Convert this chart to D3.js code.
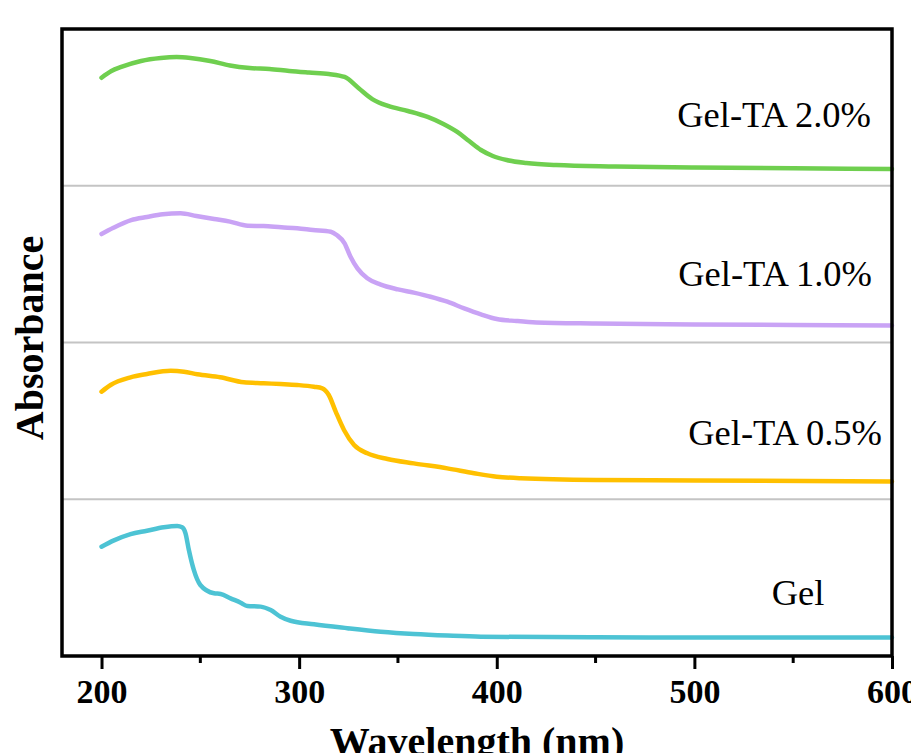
<!DOCTYPE html>
<html>
<head>
<meta charset="utf-8">
<script src="https://cdn.jsdelivr.net/npm/d3@7"></script>
<style>
  body { margin: 0; background: #fff; }
  svg { display: block; }
</style>
</head>
<body>
<div id="chart"></div>
<script>
// series names, bottom panel first
const seriesNames = ["Gel", "Gel-TA 0.5%", "Gel-TA 1.0%", "Gel-TA 2.0%"];
const seriesColors = ["#4dc3d4", "#ffc000", "#c9a3f5", "#6fcf4f"];

// normalized absorbance
const gelNm = [200, 206, 214.7, 223, 231.5, 238.3, 240.8, 242.5, 244.2, 246.7, 250, 256.9, 260.3, 265.3, 270.4, 273.8, 280.5, 285.6, 290.6, 295.7, 307.5, 324.4, 341.3, 358.1, 375, 392, 450, 500, 600];
const gelAbs = [0.697, 0.736, 0.778, 0.799, 0.821, 0.829, 0.821, 0.783, 0.676, 0.549, 0.453, 0.400, 0.396, 0.368, 0.340, 0.319, 0.315, 0.293, 0.251, 0.225, 0.202, 0.177, 0.155, 0.140, 0.130, 0.123, 0.119, 0.118, 0.118];

const ta05Nm = [200, 204.6, 214.7, 223, 235, 241.7, 248.5, 260, 272, 282, 290.6, 299, 307.5, 311.7, 315, 318.5, 322.7, 327.8, 334.5, 344.7, 358, 375, 388.5, 400, 412, 450, 500, 600];
const ta05Abs = [0.686, 0.729, 0.778, 0.799, 0.820, 0.814, 0.797, 0.778, 0.746, 0.740, 0.735, 0.729, 0.718, 0.708, 0.665, 0.559, 0.442, 0.346, 0.293, 0.257, 0.229, 0.197, 0.166, 0.144, 0.134, 0.123, 0.120, 0.113];

const ta10Nm = [200, 206, 215, 223, 231, 240, 248, 257, 265, 274, 282, 291, 299, 307, 316, 319, 323, 326, 329.5, 334.5, 341, 350, 358, 366.5, 375, 383.5, 392, 400, 410, 420, 450, 500, 550, 600];
const ta10Abs = [0.692, 0.732, 0.781, 0.801, 0.818, 0.824, 0.807, 0.788, 0.771, 0.745, 0.743, 0.735, 0.729, 0.718, 0.707, 0.686, 0.633, 0.547, 0.473, 0.410, 0.371, 0.339, 0.318, 0.292, 0.260, 0.218, 0.180, 0.150, 0.137, 0.128, 0.121, 0.115, 0.112, 0.108];

const ta20Nm = [200, 205, 210, 220, 230, 238, 245, 255, 265, 275, 285, 295, 305, 315, 323, 330, 337, 345, 355, 365, 373, 380, 386, 392, 398, 405, 415, 430, 460, 500, 550, 600];
const ta20Abs = [0.689, 0.732, 0.758, 0.796, 0.815, 0.821, 0.815, 0.796, 0.767, 0.751, 0.745, 0.732, 0.722, 0.713, 0.694, 0.624, 0.553, 0.509, 0.477, 0.439, 0.394, 0.343, 0.285, 0.228, 0.190, 0.164, 0.145, 0.132, 0.123, 0.116, 0.111, 0.107];

const xTicks = [200, 300, 400, 500, 600];
const xMinorTicks = [250, 350, 450, 550];

const allNm = [gelNm, ta05Nm, ta10Nm, ta20Nm];
const allAbs = [gelAbs, ta05Abs, ta10Abs, ta20Abs];

const width = 911, height = 753;
const margin = {left: 62, right: 19, top: 29, bottom: 97};

const svg = d3.select("#chart").append("svg")
  .attr("width", width)
  .attr("height", height)
  .style("font-family", "'Liberation Serif', 'Times New Roman', serif");

const x = d3.scaleLinear().domain([180, 600]).range([margin.left, width - margin.right]);
// each spectrum sits in its own band: offset index + normalized absorbance
const y = d3.scaleLinear().domain([0, 4]).range([height - margin.bottom, margin.top]);

// gray separators between panels
svg.append("g").selectAll("line")
  .data([1, 2, 3])
  .enter().append("line")
  .attr("x1", x(180)).attr("x2", x(600))
  .attr("y1", d => y(d)).attr("y2", d => y(d))
  .attr("stroke", "#c4c4c4")
  .attr("stroke-width", 2);

const line = d3.line()
  .x(d => x(d[0]))
  .y(d => y(d[1]))
  .curve(d3.curveMonotoneX);

allNm.forEach(function(nm, i) {
  const pts = nm.map((v, j) => [v, allAbs[i][j] + i]);
  svg.append("path")
    .attr("d", line(pts))
    .attr("fill", "none")
    .attr("stroke", seriesColors[i])
    .attr("stroke-width", 4.5)
    .attr("stroke-linejoin", "round")
    .attr("stroke-linecap", "round");
});

// series labels
const labelPos = [
  {x: 798, y: 605, anchor: "middle"},
  {x: 882, y: 445, anchor: "end"},
  {x: 872, y: 286, anchor: "end"},
  {x: 871, y: 127, anchor: "end"}
];
svg.append("g").selectAll("text")
  .data(seriesNames)
  .enter().append("text")
  .attr("x", (d, i) => labelPos[i].x)
  .attr("y", (d, i) => labelPos[i].y)
  .attr("text-anchor", (d, i) => labelPos[i].anchor)
  .attr("font-size", 36.5)
  .attr("fill", "#000")
  .text(d => d);

// frame
svg.append("rect")
  .attr("x", margin.left).attr("y", margin.top)
  .attr("width", width - margin.left - margin.right)
  .attr("height", height - margin.top - margin.bottom)
  .attr("fill", "none")
  .attr("stroke", "#000")
  .attr("stroke-width", 3.5);

// bottom axis
const xAxis = d3.axisBottom(x)
  .tickValues(xTicks)
  .tickSize(13)
  .tickPadding(10)
  .tickFormat(d3.format("d"));
const gx = svg.append("g")
  .attr("transform", "translate(0," + (height - margin.bottom) + ")")
  .call(xAxis);
gx.select(".domain").remove();
gx.selectAll(".tick line").attr("stroke", "#000").attr("stroke-width", 3);
gx.selectAll(".tick text")
  .attr("font-size", 34)
  .attr("font-weight", "bold")
  .attr("font-family", "'Liberation Serif', serif")
  .attr("fill", "#000")
  .attr("dy", "0.71em");

svg.append("g").selectAll("line")
  .data(xMinorTicks)
  .enter().append("line")
  .attr("x1", d => x(d)).attr("x2", d => x(d))
  .attr("y1", height - margin.bottom).attr("y2", height - margin.bottom + 7)
  .attr("stroke", "#000")
  .attr("stroke-width", 3);

// axis titles
svg.append("text")
  .attr("x", (margin.left + width - margin.right) / 2)
  .attr("y", 755)
  .attr("text-anchor", "middle")
  .attr("font-size", 40)
  .attr("font-weight", "bold")
  .text("Wavelength (nm)");

svg.append("text")
  .attr("transform", "translate(43,338) rotate(-90)")
  .attr("text-anchor", "middle")
  .attr("font-size", 40)
  .attr("font-weight", "bold")
  .text("Absorbance");
</script>
</body>
</html>
